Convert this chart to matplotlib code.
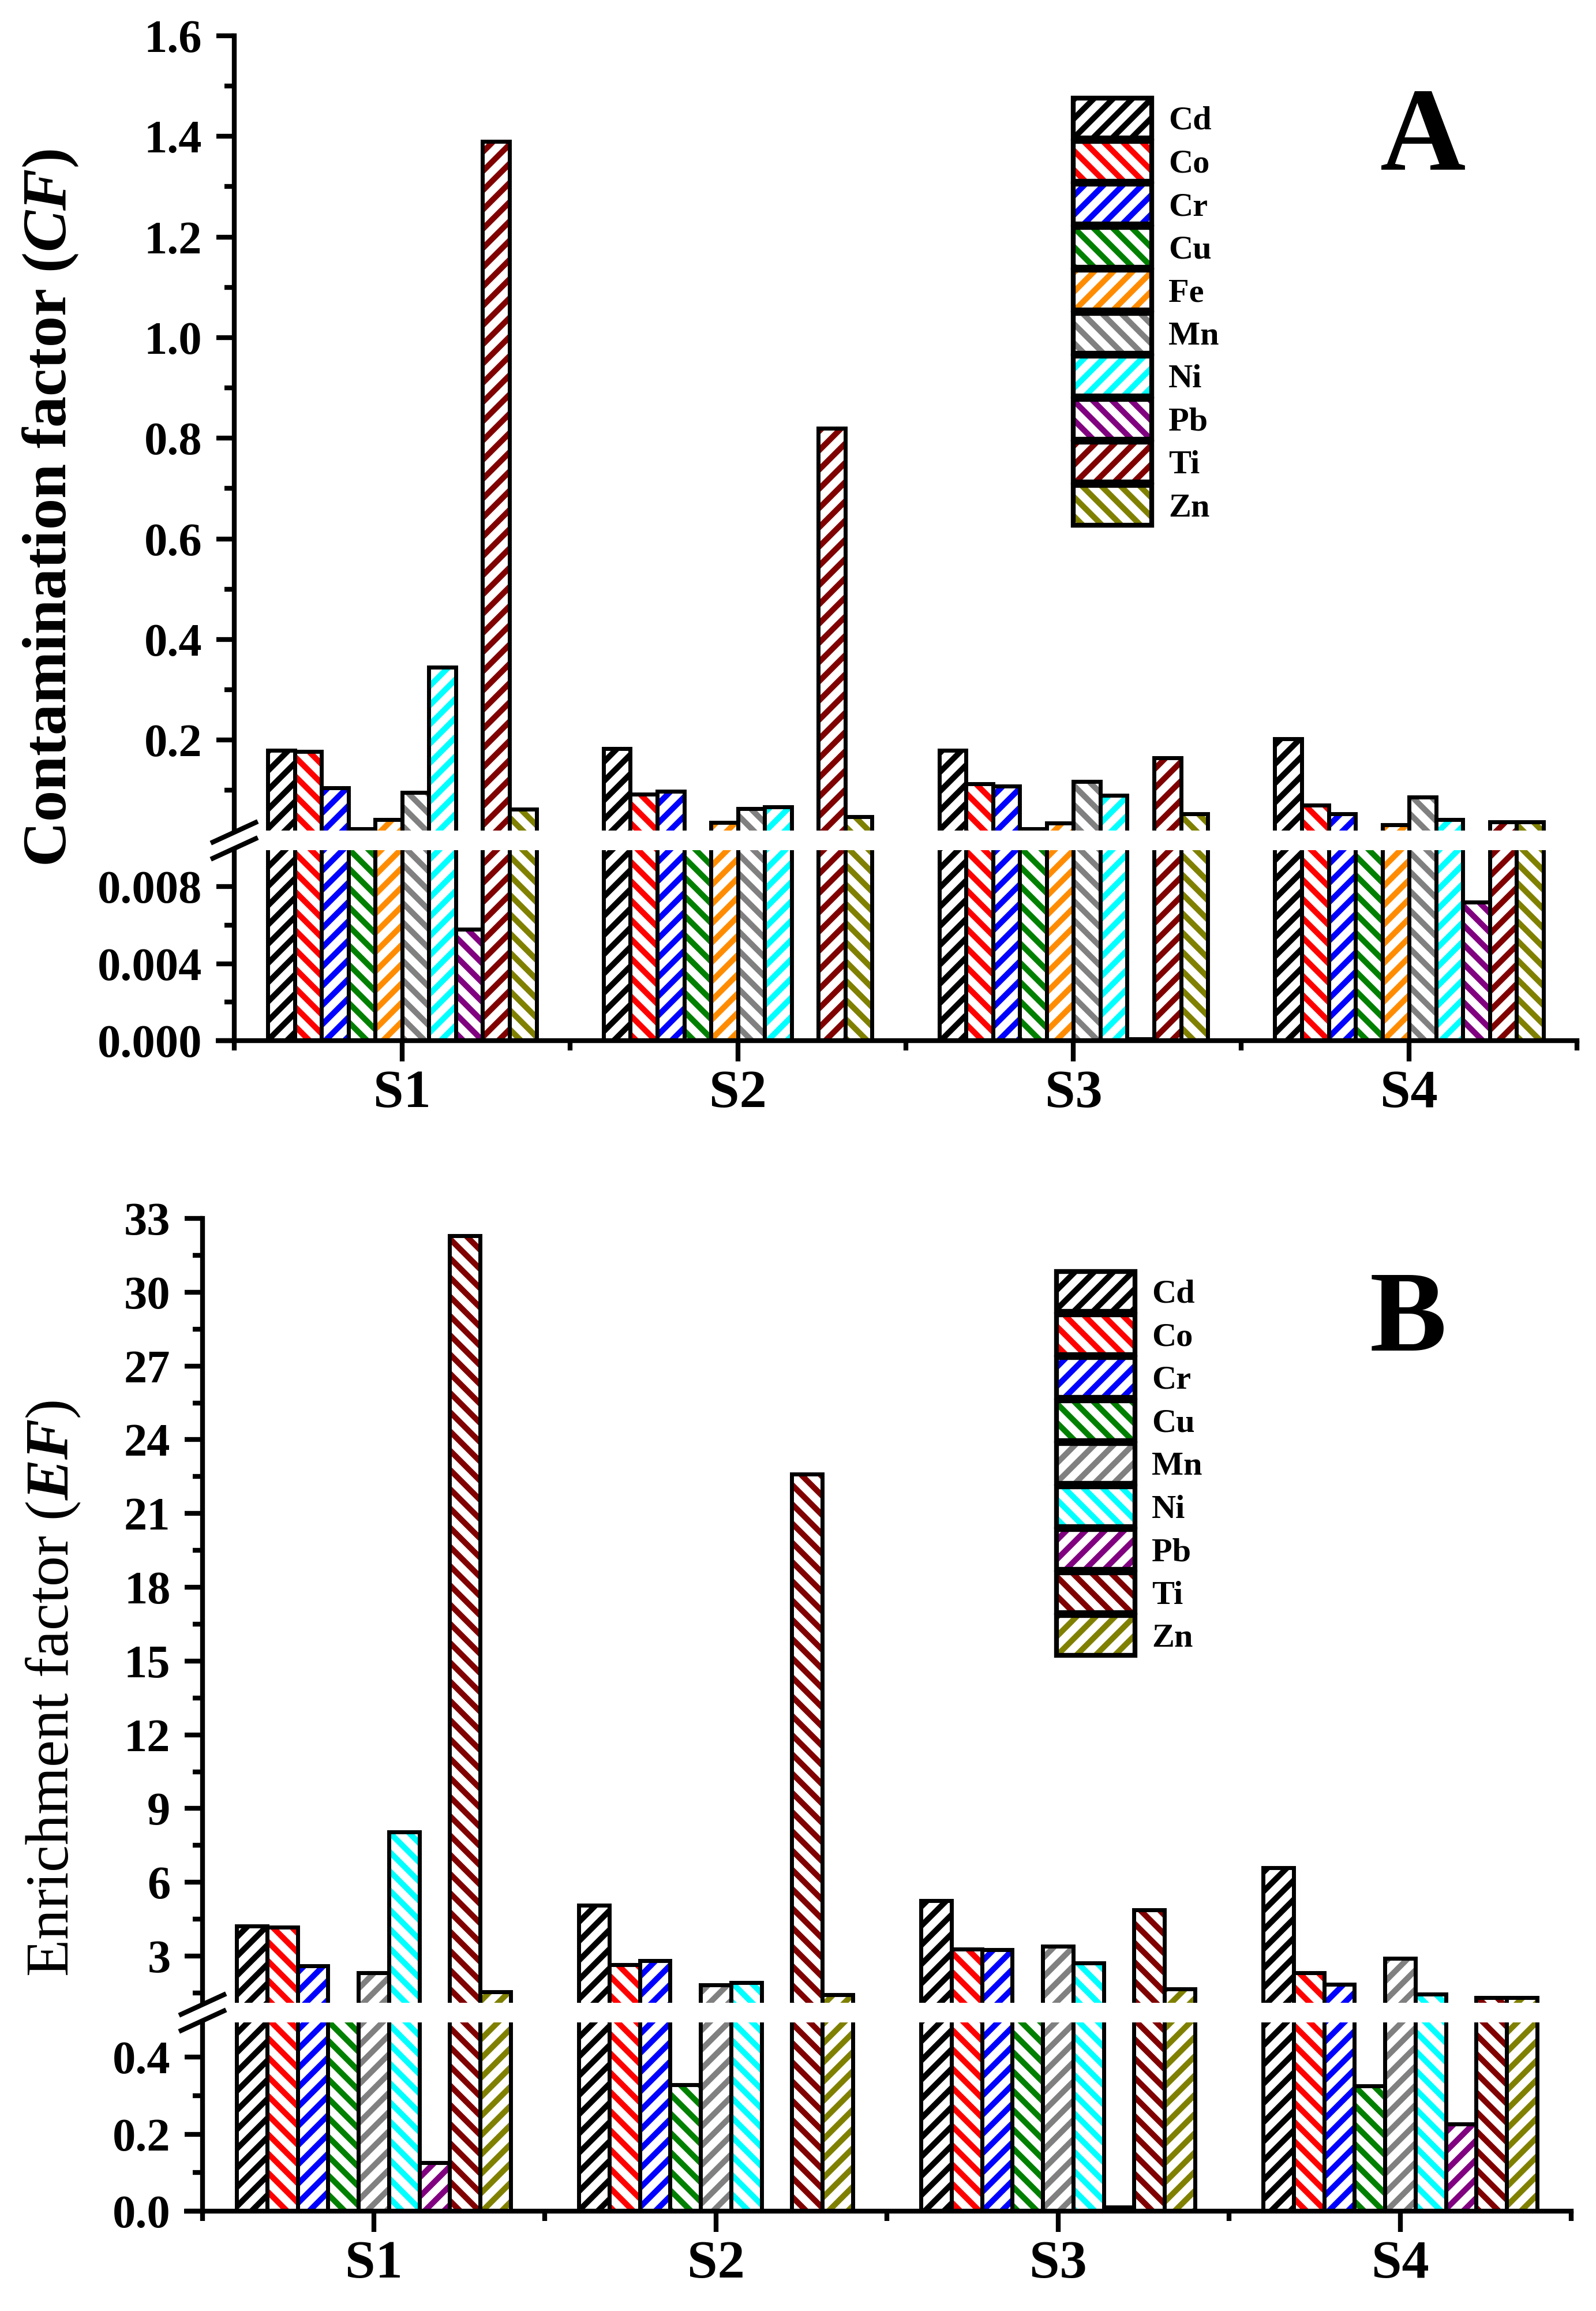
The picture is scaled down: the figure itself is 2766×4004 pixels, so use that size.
import matplotlib
matplotlib.use("Agg")
import matplotlib.pyplot as plt
import matplotlib.patches as mpatches
from matplotlib.lines import Line2D
from matplotlib.ticker import MultipleLocator, FixedLocator, FormatStrFormatter

plt.rcParams['font.family'] = ['Liberation Serif', 'DejaVu Serif']
plt.rcParams['font.weight'] = 'bold'
plt.rcParams['mathtext.fontset'] = 'custom'
plt.rcParams['mathtext.it'] = 'Liberation Serif:italic'
HAS_BFIT = 'mathtext.bfit' in plt.rcParams
if HAS_BFIT:
    plt.rcParams['mathtext.bfit'] = 'Liberation Serif:italic:bold'
plt.rcParams['hatch.linewidth'] = 3.6

# ---- data ----
sites = ["S1", "S2", "S3", "S4"]

# panel A: contamination factor
cf_elements = ["Cd", "Co", "Cr", "Cu", "Fe", "Mn", "Ni", "Pb", "Ti", "Zn"]
cf_cd = [0.180, 0.183, 0.180, 0.203]
cf_co = [0.177, 0.092, 0.113, 0.070]
cf_cr = [0.105, 0.098, 0.108, 0.053]
cf_cu = [0.0236, 0.015, 0.0235, 0.015]
cf_fe = [0.042, 0.036, 0.035, 0.031]
cf_mn = [0.096, 0.064, 0.117, 0.086]
cf_ni = [0.345, 0.067, 0.090, 0.042]
cf_pb = [0.0058, 0.0, 0.0001, 0.0072]
cf_ti = [1.39, 0.82, 0.165, 0.0375]
cf_zn = [0.062, 0.048, 0.053, 0.0375]
cf_values = [cf_cd, cf_co, cf_cr, cf_cu, cf_fe, cf_mn, cf_ni, cf_pb, cf_ti, cf_zn]

# panel B: enrichment factor
ef_elements = ["Cd", "Co", "Cr", "Cu", "Mn", "Ni", "Pb", "Ti", "Zn"]
ef_cd = [4.22, 5.07, 5.26, 6.59]
ef_co = [4.17, 2.66, 3.29, 2.33]
ef_cr = [2.61, 2.82, 3.27, 1.85]
ef_cu = [0.80, 0.328, 0.80, 0.325]
ef_mn = [2.33, 1.83, 3.40, 2.91]
ef_ni = [8.05, 1.93, 2.72, 1.46]
ef_pb = [0.126, 0.0, 0.01, 0.227]
ef_ti = [32.3, 22.6, 4.88, 1.32]
ef_zn = [1.55, 1.43, 1.66, 1.32]
ef_values = [ef_cd, ef_co, ef_cr, ef_cu, ef_mn, ef_ni, ef_pb, ef_ti, ef_zn]

element_colors = {"Cd": "#000000", "Co": "#FF0000", "Cr": "#0000FF",
                  "Cu": "#008000", "Fe": "#FF8C00", "Mn": "#808080",
                  "Ni": "#00FFFF", "Pb": "#800080", "Ti": "#800000",
                  "Zn": "#808000"}

W, H = 2766, 4004
fig = plt.figure(figsize=(W / 200, H / 200), dpi=200)


def px_axes(left, top, right, bottom):
    return fig.add_axes([left / W, 1 - bottom / H, (right - left) / W, (bottom - top) / H])


def hatch_for(j):
    # directions alternate from one element to the next
    return '//' if j % 2 == 0 else '\\\\'


def draw_bars(ax, elements, values):
    n = len(elements)
    w = 0.8 / n
    x = [i + 1 for i in range(len(sites))]
    for j, el in enumerate(elements):
        xs = [xi + (j - (n - 1) / 2) * w for xi in x]
        ax.bar(xs, values[j], width=w, facecolor='white',
               edgecolor=element_colors[el], hatch=hatch_for(j), linewidth=0)
        ax.bar(xs, values[j], width=w, fill=False, edgecolor='black', linewidth=2.5)


def style_axes(ax_top, ax_bot):
    for ax in (ax_top, ax_bot):
        ax.set_xlim(0.5, 4.5)
        ax.spines['right'].set_visible(False)
        ax.spines['top'].set_visible(False)
        ax.spines['left'].set_linewidth(3)
        ax.spines['bottom'].set_linewidth(3)
        ax.tick_params(axis='y', which='major', direction='out', length=11, width=3,
                       labelsize=29, pad=9)
        ax.tick_params(axis='y', which='minor', direction='out', length=6, width=3)
        ax.patch.set_alpha(0)
    ax_top.spines['bottom'].set_visible(False)
    ax_top.tick_params(axis='x', which='both', bottom=False, labelbottom=False)
    ax_bot.set_xticks([1, 2, 3, 4])
    ax_bot.set_xticklabels(sites)
    ax_bot.xaxis.set_minor_locator(FixedLocator([0.5, 1.5, 2.5, 3.5, 4.5]))
    ax_bot.tick_params(axis='x', which='major', direction='out', length=13, width=3,
                       labelsize=34, pad=5)
    ax_bot.tick_params(axis='x', which='minor', direction='out', length=6, width=3)
    # bottom axis line runs a little past the y axis
    ext = 32 / (ax_bot.get_position().width * W)
    ax_bot.plot([-ext, 0], [0, 0], transform=ax_bot.transAxes, color='black',
                linewidth=3, clip_on=False, solid_capstyle='butt')


def break_marks(ax_top, ax_bot):
    x0 = ax_top.get_position().x0 * W
    yc = H * (1 - (ax_top.get_position().y0 + ax_bot.get_position().y1) / 2)
    for off in (-14, 14):
        xs = [(x0 - 37) / W, (x0 + 37) / W]
        ys = [1 - (yc + off + 17) / H, 1 - (yc + off - 17) / H]
        fig.add_artist(Line2D(xs, ys, color='black', linewidth=3,
                              transform=fig.transFigure))


def add_legend(elements, anchor):
    handles = []
    for j, el in enumerate(elements):
        hp = mpatches.Rectangle((0, 0), 1, 1, facecolor='white',
                                edgecolor=element_colors[el], hatch=hatch_for(j),
                                linewidth=0)
        op = mpatches.Rectangle((0, 0), 1, 1, fill=False, edgecolor='black', linewidth=3)
        handles.append((hp, op))
    fig.legend(handles, elements, loc='upper left', bbox_to_anchor=anchor,
               bbox_transform=fig.transFigure, frameon=False,
               handlelength=2.33, handleheight=1.45, labelspacing=0.09,
               handletextpad=0.5, borderpad=0, borderaxespad=0,
               prop={'weight': 'bold', 'size': 21})


# ---- panel A ----
axA_top = px_axes(406, 62, 2733, 1439)
axA_bot = px_axes(406, 1473, 2733, 1803)
draw_bars(axA_top, cf_elements, cf_values)
draw_bars(axA_bot, cf_elements, cf_values)
axA_top.set_ylim(0.02, 1.6)
axA_bot.set_ylim(0, 0.0099)
axA_top.yaxis.set_major_locator(FixedLocator([0.2, 0.4, 0.6, 0.8, 1.0, 1.2, 1.4, 1.6]))
axA_top.yaxis.set_minor_locator(FixedLocator([0.1, 0.3, 0.5, 0.7, 0.9, 1.1, 1.3, 1.5]))
axA_top.yaxis.set_major_formatter(FormatStrFormatter('%.1f'))
axA_bot.yaxis.set_major_locator(FixedLocator([0, 0.004, 0.008]))
axA_bot.yaxis.set_minor_locator(FixedLocator([0.002, 0.006]))
axA_bot.yaxis.set_major_formatter(FormatStrFormatter('%.3f'))
style_axes(axA_top, axA_bot)
break_marks(axA_top, axA_bot)
add_legend(cf_elements, (1860 / W, 1 - 170 / H))
fig.text(2466 / W, 1 - 294 / H, "A", fontsize=74, fontweight='bold',
         ha='center', va='baseline')
cf_label = r"Contamination factor ($\mathbfit{CF}$)" if HAS_BFIT else "Contamination factor (CF)"
fig.text(88 / W, 1 - 880 / H, cf_label, fontsize=39,
         fontweight='bold', rotation=90, ha='center', va='center')

# ---- panel B ----
axB_top = px_axes(351, 2111, 2723, 3470)
axB_bot = px_axes(351, 3504, 2723, 3831)
draw_bars(axB_top, ef_elements, ef_values)
draw_bars(axB_bot, ef_elements, ef_values)
axB_top.set_ylim(1.1, 33)
axB_bot.set_ylim(0, 0.49)
axB_top.yaxis.set_major_locator(MultipleLocator(3))
axB_top.yaxis.set_minor_locator(FixedLocator([1.5 + 3 * k for k in range(11)]))
axB_top.yaxis.set_major_formatter(FormatStrFormatter('%d'))
axB_bot.yaxis.set_major_locator(FixedLocator([0, 0.2, 0.4]))
axB_bot.yaxis.set_minor_locator(FixedLocator([0.1, 0.3]))
axB_bot.yaxis.set_major_formatter(FormatStrFormatter('%.1f'))
style_axes(axB_top, axB_bot)
break_marks(axB_top, axB_bot)
add_legend(ef_elements, (1831 / W, 1 - 2203 / H))
fig.text(2440 / W, 1 - 2340 / H, "B", fontsize=72, fontweight='bold',
         ha='center', va='baseline')
fig.text(92 / W, 1 - 2925 / H, r"Enrichment factor ($\mathit{EF}$)", fontsize=38,
         fontweight='normal', rotation=90, ha='center', va='center')

fig.savefig("out.png", dpi=200)
